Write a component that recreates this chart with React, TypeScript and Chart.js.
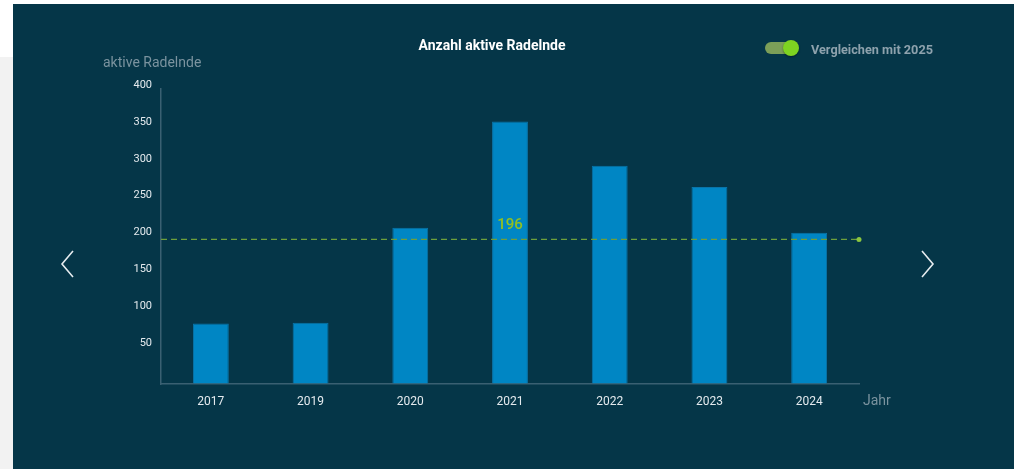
import React, { useEffect, useRef } from "react";
import { Chart, registerables } from "chart.js";
Chart.register(...registerables);

const categories = ["2017", "2019", "2020", "2021", "2022", "2023", "2024"];
const values = [82, 83, 212, 356, 296, 267, 205];
const compareValue = 196;
const yMax = 400;
const yStep = 50;

const PANEL_BG = "#053648";
const FONT = "Roboto, 'Noto Sans', sans-serif";

const refLinePlugin = {
  id: "refLine",
  afterDatasetsDraw(chart: any) {
    const { ctx, chartArea, scales } = chart;
    const py = scales.y.getPixelForValue(compareValue);
    ctx.save();
    ctx.setLineDash([6, 4]);
    ctx.strokeStyle = "#6e9f3c";
    ctx.lineWidth = 1.2;
    ctx.beginPath();
    ctx.moveTo(chartArea.left, py);
    ctx.lineTo(chartArea.right, py);
    ctx.stroke();
    ctx.setLineDash([]);
    ctx.fillStyle = "#8cc63f";
    ctx.beginPath();
    ctx.arc(chartArea.right, py, 2.5, 0, Math.PI * 2);
    ctx.fill();
    ctx.font = `500 15px ${FONT}`;
    ctx.textAlign = "center";
    ctx.textBaseline = "middle";
    ctx.fillStyle = "#93c01f";
    ctx.fillText(String(compareValue), (chartArea.left + chartArea.right) / 2, py - 14);
    ctx.restore();
  },
};

export default function App() {
  const ref = useRef<HTMLCanvasElement | null>(null);

  useEffect(() => {
    document.body.style.margin = "0";
    const chart = new Chart(ref.current as HTMLCanvasElement, {
      type: "bar",
      data: {
        labels: categories,
        datasets: [
          {
            data: values,
            backgroundColor: "#0086c4",
            borderColor: "#0a74a8",
            borderWidth: 1,
            barPercentage: 0.36,
            categoryPercentage: 1,
          },
        ],
      },
      options: {
        animation: false,
        responsive: false,
        maintainAspectRatio: false,
        layout: { padding: { left: 0, right: 155, top: 85, bottom: 55 } },
        plugins: { legend: { display: false }, tooltip: { enabled: false }, title: { display: false } },
        scales: {
          x: {
            grid: { display: true, color: "transparent", drawTicks: false },
            border: { display: true, color: "#3a6072", width: 1.5 },
            ticks: { color: "#e4eaee", font: { family: FONT, size: 12 }, padding: 11 },
            afterFit: (s: any) => {
              s.height = 30;
            },
          },
          y: {
            min: 0,
            max: yMax,
            grid: { display: true, color: "transparent", drawTicks: false },
            border: { display: true, color: "#3a6072", width: 1.5 },
            ticks: {
              stepSize: yStep,
              color: "#e4eaee",
              font: { family: FONT, size: 11 },
              padding: 9,
              labelOffset: -4,
              callback: (v: any) => (v === 0 ? "" : String(v)),
            },
            afterFit: (s: any) => {
              s.width = 148;
            },
          },
        },
      },
      plugins: [refLinePlugin],
    });
    return () => chart.destroy();
  }, []);

  const text = (extra: React.CSSProperties): React.CSSProperties => ({
    position: "absolute",
    fontFamily: FONT,
    whiteSpace: "nowrap",
    ...extra,
  });

  return (
    <div style={{ position: "absolute", left: 0, top: 0, width: 1014, height: 469, background: "#ffffff", overflow: "hidden" }}>
      <div style={{ position: "absolute", left: 0, top: 57, width: 13, height: 412, background: "#f2f2f2" }} />
      <div style={{ position: "absolute", left: 13, top: 4, width: 1001, height: 465, background: PANEL_BG }}>
        <canvas ref={ref} width={1001} height={465} style={{ position: "absolute", left: 0, top: 0, width: 1001, height: 465 }} />
        <div style={text({ left: 379, width: 200, textAlign: "center", top: 33, fontSize: 14, lineHeight: "16px", fontWeight: 700, color: "#ffffff" })}>
          Anzahl aktive Radelnde
        </div>
        <div style={{ position: "absolute", left: 752, top: 38, width: 30, height: 12, borderRadius: 6, background: "#7c9f58" }} />
        <div style={{ position: "absolute", left: 770, top: 36, width: 16, height: 16, borderRadius: 8, background: "#7ed321", boxShadow: "0 1px 2px rgba(0,0,0,0.4)" }} />
        <div style={text({ left: 798, top: 38, fontSize: 12.7, lineHeight: "15px", fontWeight: 700, color: "#8ea2ad" })}>
          Vergleichen mit 2025
        </div>
        <div style={text({ left: 90, top: 50, fontSize: 14, lineHeight: "16px", color: "#7b939f" })}>aktive Radelnde</div>
        <div style={text({ left: 850, top: 388, fontSize: 14, lineHeight: "16px", color: "#7b939f" })}>Jahr</div>
        <svg style={{ position: "absolute", left: 0, top: 0 }} width={1001} height={465}>
          <polyline points="60,247 49,260 60,273" fill="none" stroke="#e6ecef" strokeWidth={1.6} />
          <polyline points="909,247 920,260 909,273" fill="none" stroke="#e6ecef" strokeWidth={1.6} />
        </svg>
      </div>
    </div>
  );
}
